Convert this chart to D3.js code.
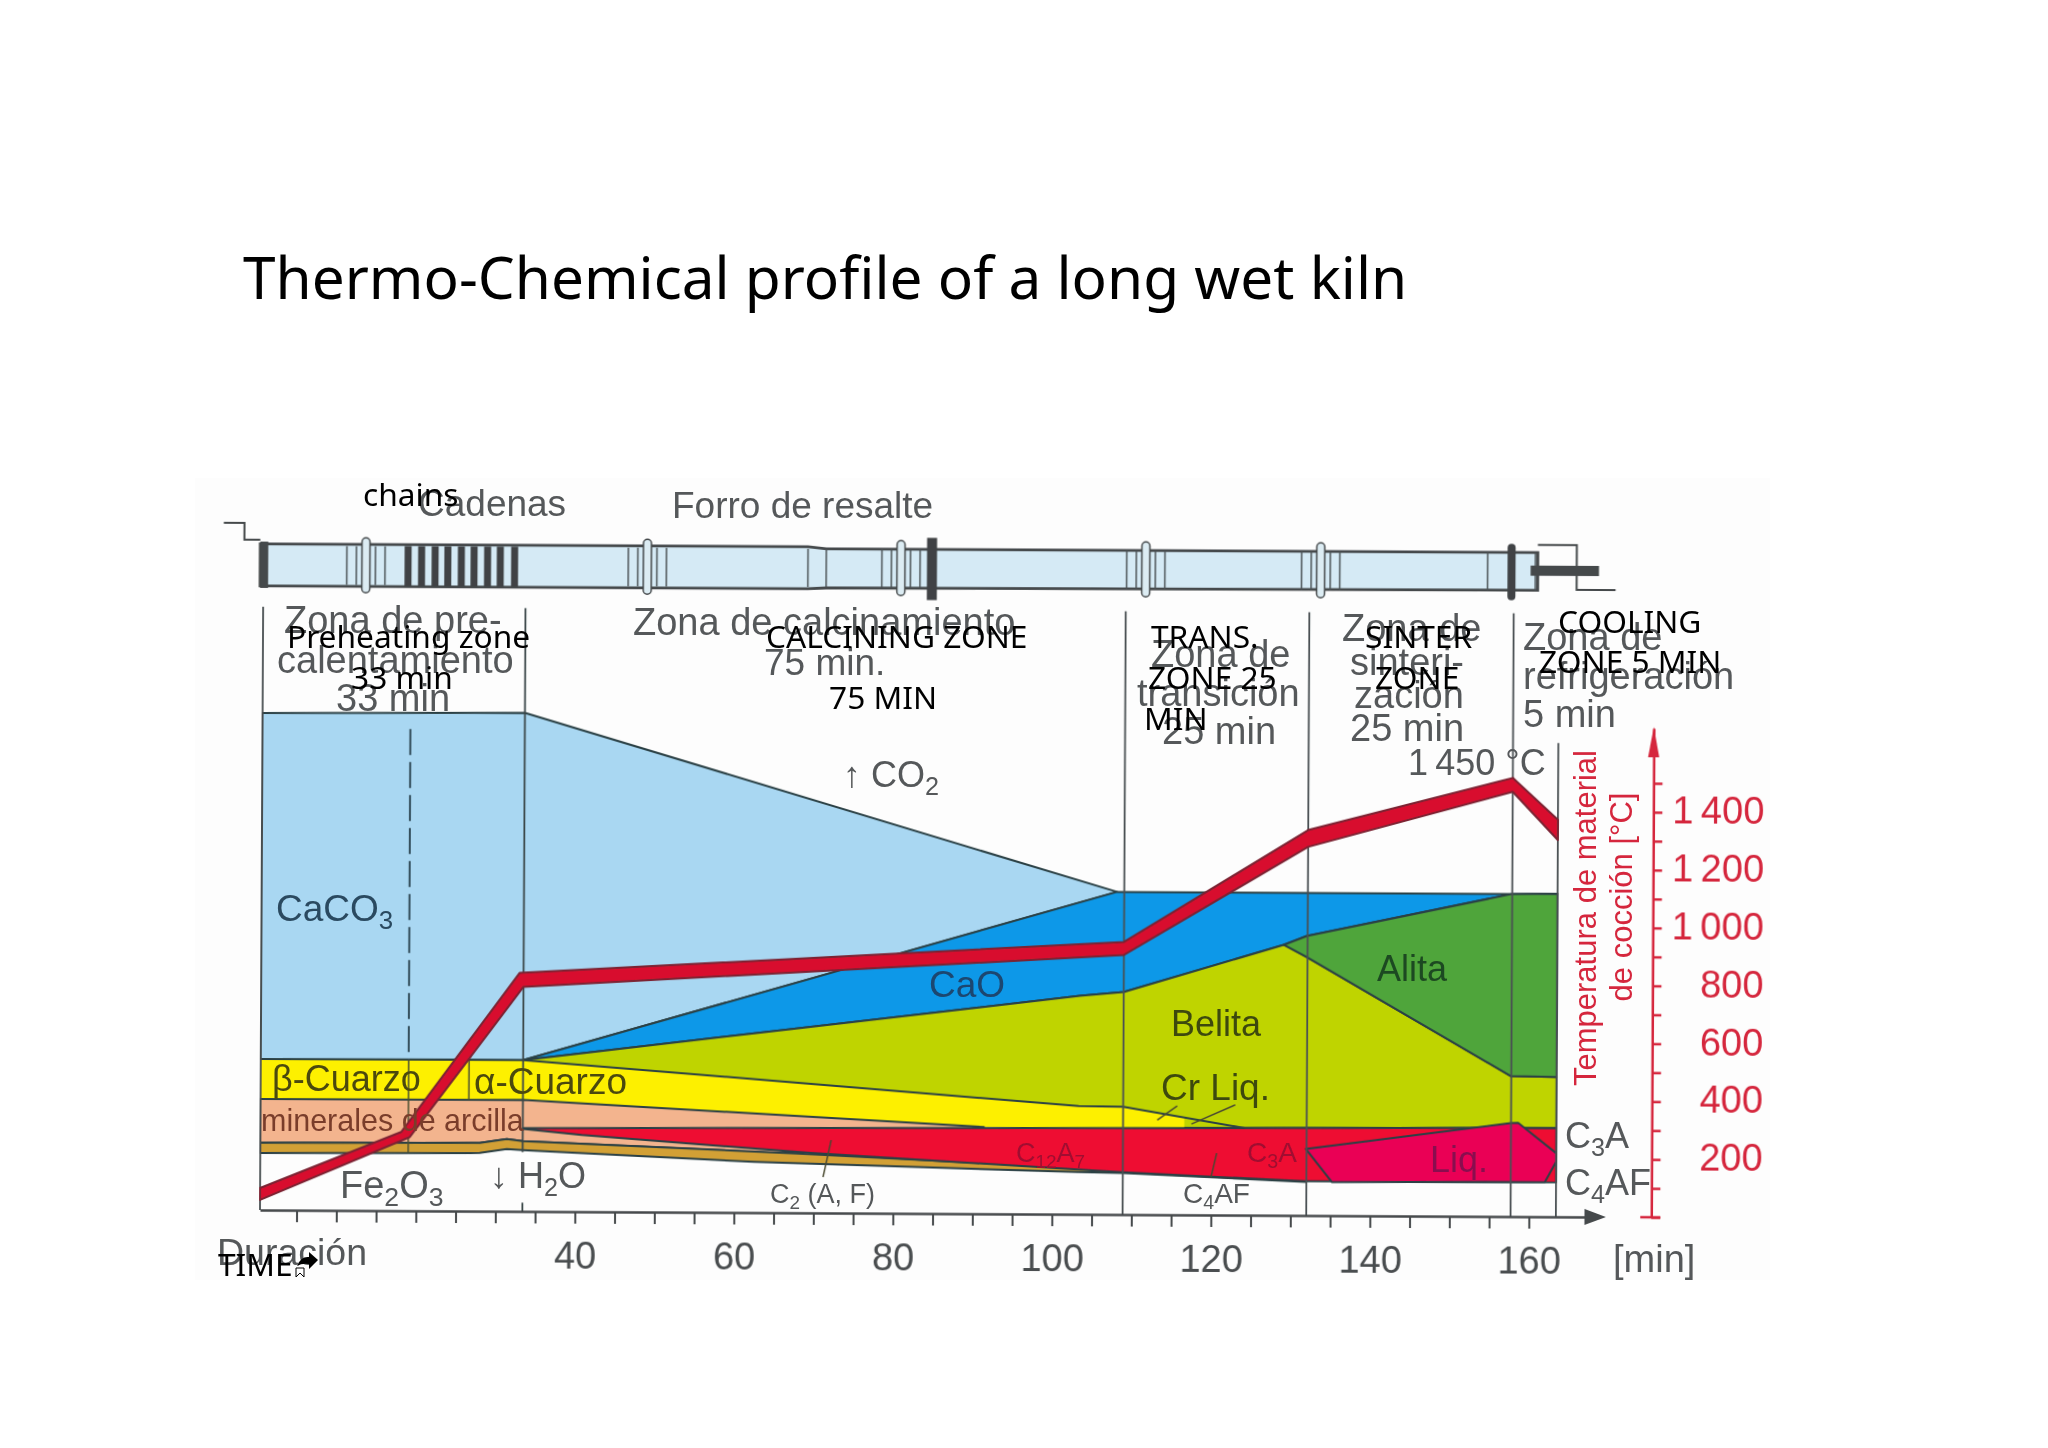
<!DOCTYPE html>
<html>
<head>
<meta charset="utf-8">
<script src="https://cdn.jsdelivr.net/npm/d3@7"></script>
<style>
  html, body { margin: 0; padding: 0; background: #fff; }
  svg { display: block; }
</style>
</head>
<body>
<script>
// every point below is [minutes, degrees C]
var caco3 = [[0.4, 1718], [33.4, 1723], [108, 1115], [33.4, 523], [0.4, 522]];
var cao = [[33.4, 523], [108, 1115], [157.7, 1115], [163.4, 1116], [157.7, 1115], [131.9, 966], [129, 935], [108.9, 769], [103.4, 755]];
var belita = [[33.4, 523], [103.4, 755], [108.9, 769], [129, 935], [131.9, 893], [157.6, 486], [163.4, 483], [163.4, 307], [131.9, 302], [108.9, 300], [100, 300]];
var alita = [[129, 935], [131.9, 966], [157.7, 1115], [163.4, 1116], [163.4, 483], [157.6, 486], [131.9, 893]];
var cuarzo = [[0.4, 522], [33.4, 523], [103.3, 374], [108.9, 372], [116.6, 336], [116.6, 300], [91.4, 300], [33.4, 385], [0.4, 384]];
var cuarzoTop = [[0.4, 522], [33.4, 523], [103.3, 374], [108.9, 372], [124.2, 301]];
var arcilla = [[0.4, 384], [33.4, 385], [91.4, 300], [66, 206], [33.4, 243], [31.4, 250], [28, 236], [0.4, 232]];
var c2af = [[0.4, 232], [28, 236], [31.4, 250], [33.4, 243], [68, 205], [103.3, 160], [132, 116], [108.9, 143], [103.3, 146], [62.5, 175], [33.4, 212], [31.4, 215], [28, 201], [0.4, 197]];
var c3a = [[33.4, 288], [103.3, 298], [131.9, 302], [163.4, 307], [163.4, 119], [131.9, 118], [108.9, 146], [103.3, 155], [69.6, 207], [40.8, 265], [33.4, 285]];
var liq = [[131.9, 230], [157.7, 323], [158.6, 324], [163.4, 220], [163.4, 190], [162, 120], [135.2, 116]];

var tempUpper = [[0.4, 76], [18.1, 272], [32.9, 824], [108.9, 942], [132, 1332], [157.7, 1516], [163.4, 1372]];
var tempLower = [[0.4, 35], [19.2, 255], [33.4, 776], [108.9, 897], [132, 1274], [157.7, 1468], [163.4, 1302]];

var zoneEdges = [0.4, 108.9, 132, 157.7];
var minuteTicks = d3.range(5, 161, 5);
var minuteLabels = [40, 60, 80, 100, 120, 140, 160];
var tempTicks = d3.range(0, 1501, 100);
var tempLabels = { 200: "200", 400: "400", 600: "600", 800: "800", 1000: "1\u2009000", 1200: "1\u2009200", 1400: "1\u2009400" };

var leaders = [
  [[115.7, 376], [113.2, 327]],
  [[123, 381], [117.5, 314]],
  [[72.2, 252], [71.2, 124]],
  [[120.7, 214], [120, 131]]
];

// kiln drawing, same units
var kilnBody = [[0, 2302], [68.9, 2302], [71.2, 2295], [160.7, 2295], [160.7, 2165], [71.2, 2160], [68.9, 2157], [0, 2157]];
var kilnRings = [13.3, 48.7, 80.6, 111.4, 133.4];
var kilnChains = [18.6, 20.3, 22, 23.6, 25.3, 26.9, 28.6, 30.2, 32];
var kilnInlet = [[-4.6, 2374], [-2, 2374], [-2, 2316], [0, 2316]];
var kilnHood = [[160.7, 2322], [165.6, 2322], [165.6, 2167], [170.5, 2167]];

var svg = d3.select("body").append("svg")
  .attr("width", 2048)
  .attr("height", 1448);

var defs = svg.append("defs");
defs.append("filter").attr("id", "soft")
  .append("feGaussianBlur").attr("stdDeviation", 0.6);

svg.append("rect")
  .attr("x", 195).attr("y", 478)
  .attr("width", 1575).attr("height", 802)
  .attr("fill", "#fdfdfd");

// the scanned figure sits slightly crooked on the page
var plot = svg.append("g")
  .attr("transform", "rotate(0.3 260 1210)")
  .attr("filter", "url(#soft)");

var x = d3.scaleLinear().domain([0.4, 167]).range([260, 1584.5]);
var y = d3.scaleLinear().domain([0, 1690]).range([1210, 721]);

var shape = d3.line().x(d => x(d[0])).y(d => y(d[1]));
function closed(points) { return shape(points) + "Z"; }

var lineColor = "#2b4044";

// kiln
plot.append("path").attr("d", closed(kilnBody))
  .attr("fill", "#d5eaf5").attr("stroke", "#45494b").attr("stroke-width", 2.8);
plot.append("path").attr("d", shape(kilnInlet))
  .attr("fill", "none").attr("stroke", "#45494b").attr("stroke-width", 2);
plot.append("path").attr("d", shape(kilnHood))
  .attr("fill", "none").attr("stroke", "#45494b").attr("stroke-width", 2);
plot.append("rect")
  .attr("x", x(0)).attr("y", y(2310))
  .attr("width", 8).attr("height", y(2150) - y(2310))
  .attr("fill", "#45494b");

kilnRings.forEach(function (t) {
  [-2.4, -1.2, 1.2, 2.4].forEach(function (off) {
    plot.append("line")
      .attr("x1", x(t + off)).attr("x2", x(t + off))
      .attr("y1", y(2296)).attr("y2", y(2162))
      .attr("stroke", "#4c5356").attr("stroke-width", 1.5);
  });
  plot.append("rect")
    .attr("x", x(t) - 4).attr("y", y(2325))
    .attr("width", 8).attr("height", y(2135) - y(2325))
    .attr("rx", 4)
    .attr("fill", "#dcecf3").attr("stroke", "#45494b").attr("stroke-width", 1.5);
});

plot.selectAll(".chain")
  .data(kilnChains)
  .enter().append("rect")
  .attr("class", "chain")
  .attr("x", d => x(d) - 3.5)
  .attr("y", y(2297))
  .attr("width", 7)
  .attr("height", y(2158) - y(2297))
  .attr("fill", "#3f4345");

[68.9, 71.2, 154.4, 160.4].forEach(function (t) {
  plot.append("line")
    .attr("x1", x(t)).attr("x2", x(t))
    .attr("y1", y(2295)).attr("y2", y(2163))
    .attr("stroke", "#4c5356").attr("stroke-width", 1.5);
});
plot.append("rect").attr("x", x(84.5) - 5).attr("y", y(2335))
  .attr("width", 10).attr("height", y(2120) - y(2335)).attr("fill", "#3f4345");
plot.append("rect").attr("x", x(157.4) - 4).attr("y", y(2325))
  .attr("width", 8).attr("height", y(2130) - y(2325)).attr("rx", 4).attr("fill", "#3f4345");
plot.append("rect").attr("x", x(159.8)).attr("y", y(2250))
  .attr("width", x(168.4) - x(159.8)).attr("height", y(2215) - y(2250)).attr("fill", "#45494b");

// layers
var layers = [
  [caco3, "#a9d7f2", lineColor],
  [cao, "#0a98e8", lineColor],
  [belita, "#bfd404", lineColor],
  [alita, "#4fa53a", lineColor],
  [cuarzo, "#fdf000", "none"],
  [arcilla, "#f3b48e", lineColor],
  [c2af, "#d2a035", lineColor],
  [c3a, "#ee0a32", lineColor],
  [liq, "#ea0055", lineColor]
];
layers.forEach(function (d) {
  plot.append("path")
    .attr("d", closed(d[0]))
    .attr("fill", d[1])
    .attr("stroke", d[2])
    .attr("stroke-width", 2)
    .attr("stroke-linejoin", "round");
});
plot.append("path").attr("d", shape(cuarzoTop))
  .attr("fill", "none").attr("stroke", lineColor).attr("stroke-width", 2);

// zone lines
zoneEdges.forEach(function (t) {
  plot.append("line")
    .attr("x1", x(t)).attr("x2", x(t))
    .attr("y1", y(2085)).attr("y2", y(0))
    .attr("stroke", "#4a5052").attr("stroke-width", 1.8);
});
plot.append("line").attr("x1", x(33.4)).attr("x2", x(33.4))
  .attr("y1", y(2085)).attr("y2", y(205))
  .attr("stroke", "#3a4648").attr("stroke-width", 1.8);
plot.append("line").attr("x1", x(33.4)).attr("x2", x(33.4))
  .attr("y1", y(30)).attr("y2", y(0))
  .attr("stroke", "#3a4648").attr("stroke-width", 1.8);
plot.append("line").attr("x1", x(163.4)).attr("x2", x(163.4))
  .attr("y1", y(1637)).attr("y2", y(0))
  .attr("stroke", "#4a5052").attr("stroke-width", 1.8);
plot.append("line").attr("x1", x(19)).attr("x2", x(19))
  .attr("y1", y(1665)).attr("y2", y(522))
  .attr("stroke", "#34505c").attr("stroke-width", 2).attr("stroke-dasharray", "26 7");
plot.append("line").attr("x1", x(19)).attr("x2", x(19))
  .attr("y1", y(522)).attr("y2", y(200))
  .attr("stroke", "#4a5030").attr("stroke-width", 1.5);
plot.append("line").attr("x1", x(26.6)).attr("x2", x(26.6))
  .attr("y1", y(522)).attr("y2", y(384))
  .attr("stroke", "#4a5030").attr("stroke-width", 1.5);

leaders.forEach(function (d) {
  plot.append("path").attr("d", shape(d))
    .attr("fill", "none").attr("stroke", "#4a4a30").attr("stroke-width", 1.5);
});

// temperature band
plot.append("path")
  .attr("d", closed(tempUpper.concat(tempLower.slice().reverse())))
  .attr("fill", "#d8112f")
  .attr("stroke", "#7b2232")
  .attr("stroke-width", 2)
  .attr("stroke-linejoin", "round");

// time axis
var timeAxis = d3.axisBottom(x)
  .tickValues(minuteTicks)
  .tickSize(12)
  .tickSizeOuter(0)
  .tickFormat(d => minuteLabels.includes(d) ? d : "");
var timeGroup = plot.append("g")
  .attr("transform", "translate(0," + y(0) + ")")
  .call(timeAxis);
timeGroup.select(".domain").attr("stroke", "#45494b").attr("stroke-width", 2.5);
timeGroup.selectAll(".tick line").attr("stroke", "#45494b").attr("stroke-width", 2);
timeGroup.selectAll(".tick text")
  .attr("y", 57).attr("dy", 0)
  .attr("fill", "#4a4d4f")
  .style("font-family", "'Liberation Sans', sans-serif")
  .style("font-size", "38px");
plot.append("path")
  .attr("d", closed([[167, 28], [169.7, 0], [167, -28]]))
  .attr("fill", "#45494b");

// temperature axis
var tempColor = "#d5263c";
var tempAxis = d3.axisRight(y)
  .tickValues(tempTicks)
  .tickSize(9)
  .tickSizeOuter(0)
  .tickFormat(d => tempLabels[d] || "");
var tempGroup = plot.append("g")
  .attr("transform", "translate(" + x(175.4) + ",0)")
  .call(tempAxis);
tempGroup.select(".domain").attr("stroke", tempColor).attr("stroke-width", 2.5);
tempGroup.selectAll(".tick line").attr("stroke", tempColor).attr("stroke-width", 2.5);
tempGroup.selectAll(".tick text")
  .attr("x", 111).attr("dy", "0.28em")
  .attr("text-anchor", "end")
  .attr("fill", tempColor)
  .style("font-family", "'Liberation Sans', sans-serif")
  .style("font-size", "38px");
plot.append("line")
  .attr("x1", x(175.4) - 11).attr("x2", x(175.4) + 9)
  .attr("y1", y(0)).attr("y2", y(0))
  .attr("stroke", tempColor).attr("stroke-width", 2.5);
plot.append("path")
  .attr("d", closed([[174.7, 1590], [175.4, 1695], [176.1, 1590]]))
  .attr("fill", tempColor);

// texts from the scanned figure
var sans = "'Liberation Sans', sans-serif";
var grey = "#55585a";
var scanned = svg.append("g").attr("filter", "url(#soft)");

function note(label, px, py, size, color) {
  var t = scanned.append("text")
    .attr("x", px).attr("y", py)
    .style("font-family", sans)
    .style("font-size", size + "px")
    .attr("fill", color || grey);
  label.split("_").forEach(function (part, i) {
    // odd pieces are subscripts
    t.append("tspan")
      .attr("dy", i === 0 ? 0 : (i % 2 ? size * 0.22 : -size * 0.22))
      .style("font-size", (i % 2 ? size * 0.7 : size) + "px")
      .text(part);
  });
}

note("Cadenas", 418, 516, 37);
note("Forro de resalte", 672, 518, 37);
note("Zona de pre-", 284, 633, 38);
note("calentamiento", 277, 673, 38);
note("33 min", 336, 711, 38);
note("Zona de calcinamiento", 633, 635, 38);
note("75 min.", 764, 675, 37);
note("Zona de", 1151, 667, 38);
note("transición", 1137, 706, 38);
note("25 min", 1162, 744, 38);
note("Zona de", 1342, 641, 38);
note("sinteri-", 1350, 675, 38);
note("zación", 1354, 708, 38);
note("25 min", 1350, 741, 38);
note("Zona de", 1523, 650, 38);
note("refrigeración", 1523, 689, 38);
note("5 min", 1523, 727, 38);
note("1\u2009450 °C", 1408, 775, 36);
note("\u2191 CO_2", 843, 787, 36);
note("CaCO_3", 276, 921, 37, "#2b4a60");
note("CaO", 929, 997, 37, "#1c4670");
note("Alita", 1377, 981, 36, "#1e4a20");
note("Belita", 1171, 1036, 36, "#3e4a10");
note("Cr Liq.", 1161, 1100, 37, "#3e4a10");
note("\u03b2-Cuarzo", 272, 1091, 36, "#4c4a10");
note("\u03b1-Cuarzo", 474, 1094, 37, "#4c4a10");
note("minerales de arcilla", 261, 1131, 30.5, "#7a3e2c");
note("Fe_2_O_3", 340, 1198, 38);
note("\u2193 H_2_O", 490, 1188, 36);
note("C_2_ (A, F)", 770, 1203, 27);
note("C_12_A_7", 1016, 1162, 27, "#a01030");
note("C_3_A", 1247, 1162, 28, "#a01030");
note("Liq.", 1430, 1172, 36, "#8a1050");
note("C_3_A", 1565, 1148, 36);
note("C_4_AF", 1565, 1195, 36);
note("C_4_AF", 1183, 1203, 28);
note("Duración", 217, 1265, 37.5);
note("[min]", 1613, 1272, 38);

function redTitle(label, px, py) {
  scanned.append("text")
    .attr("transform", "translate(" + px + "," + py + ") rotate(-90)")
    .attr("text-anchor", "middle")
    .style("font-family", sans)
    .style("font-size", "31px")
    .attr("fill", tempColor)
    .text(label);
}
redTitle("Temperatura de material", 1596, 918);
redTitle("de cocción [°C]", 1632, 897);

// labels typed over the figure
var typed = svg.append("g");
function overlay(label, px, py) {
  typed.append("text")
    .attr("x", px).attr("y", py)
    .style("font-family", "'Noto Sans', sans-serif")
    .style("font-size", "31.7px")
    .attr("fill", "#000")
    .text(label);
}
typed.append("text")
  .attr("x", 243).attr("y", 299)
  .style("font-family", "'Noto Sans', sans-serif")
  .style("font-size", "58.5px")
  .attr("fill", "#000")
  .text("Thermo-Chemical profile of a long wet kiln");

overlay("chains", 363, 506);
overlay("Preheating zone", 287, 648);
overlay("33 min", 351, 689);
overlay("CALCINING ZONE", 766, 648);
overlay("75 MIN", 829, 709);
overlay("TRANS.", 1151, 648);
overlay("ZONE 25", 1148, 689);
overlay("MIN", 1144, 730);
overlay("SINTER", 1365, 648);
overlay("ZONE", 1375, 689);
overlay("COOLING", 1558, 633);
overlay("ZONE 5 MIN", 1539, 673);
overlay("TIME", 218, 1276);

// little arrow after TIME
typed.append("path")
  .attr("d", "M297 1266 Q301 1256 309 1257 L309 1252 L318 1260 L309 1269 L309 1264 Q302 1263 297 1266Z")
  .attr("fill", "#000");
typed.append("path")
  .attr("d", "M296 1268 L304 1268 L304 1277 L300 1273 L296 1277Z")
  .attr("fill", "#fff").attr("stroke", "#000").attr("stroke-width", 1);
</script>
</body>
</html>
